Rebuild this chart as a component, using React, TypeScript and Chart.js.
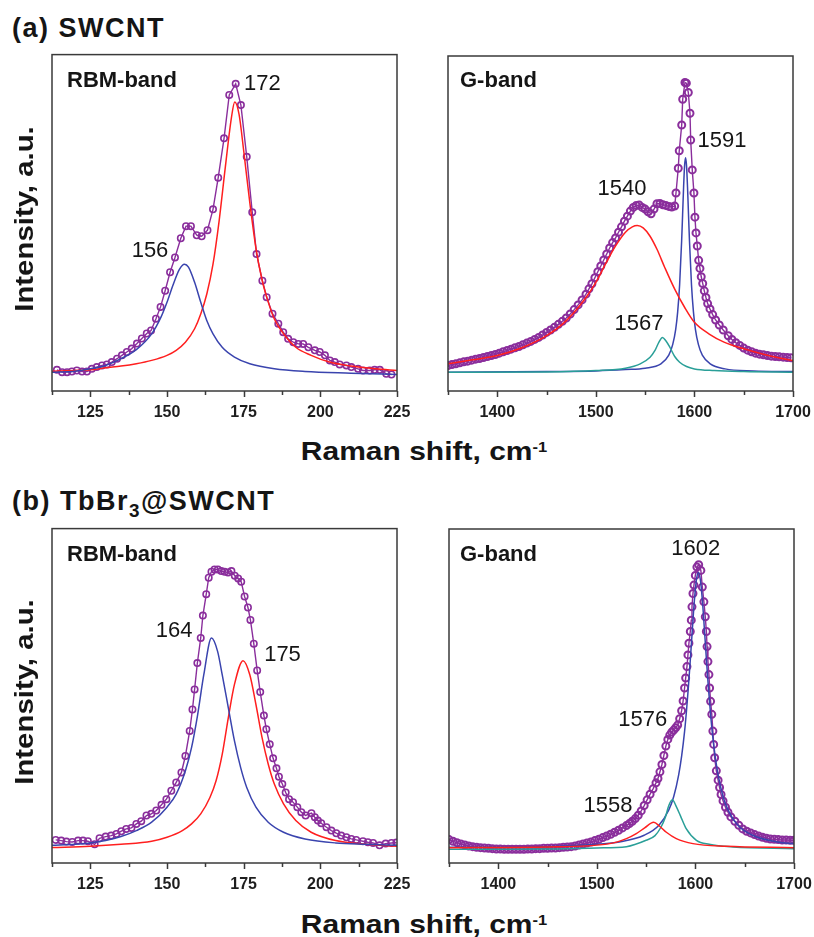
import React, { useEffect, useRef } from 'react';
import { Chart, registerables } from 'chart.js';
Chart.register(...registerables);

// ---------- (a) SWCNT, RBM band ----------
const aRbmDataX = [114.1,115.8,117.4,119.0,120.6,122.3,123.9,125.5,127.1,128.8,130.4,132.0,133.7,135.3,136.9,138.5,140.2,141.8,143.4,144.8,146.4,147.9,149.4,151.0,152.6,154.5,156.2,157.8,159.7,161.3,163.2,165.0,166.7,168.6,170.3,172.4,174.1,176.0,177.8,179.2,181.1,182.5,184.4,186.3,187.9,189.5,191.2,192.8,194.4,196.1,198.2,199.8,201.5,203.1,204.7,206.3,208.5,210.1,212.3,213.9,216.1,217.7,219.4,221.5,223.2];
const aRbmDataY = [6.3,5.6,5.6,5.8,6.1,5.8,5.8,6.6,7.1,7.6,7.9,8.6,9.6,10.6,11.6,12.6,14.1,15.6,17.1,18.0,21.5,25.0,29.8,35.3,39.7,45.4,49.0,49.0,46.3,46.0,47.8,54.0,63.4,75.1,88.0,91.3,85.0,69.6,53.1,40.7,32.8,27.9,23.0,20.0,17.5,15.5,14.5,14.0,14.0,13.0,12.1,11.6,10.6,9.1,8.6,7.9,7.6,7.1,6.6,6.1,6.1,6.3,6.3,5.1,4.9];
const aRbmBlueX = [112.5,120,125,130,135,140,145,148,150,152,154,155.7,157,159,161,163,165,168,172,177,185,195,210,225];
const aRbmBlueY = [5.6,5.9,6.6,7.6,9.6,12.3,17.0,21.9,26.4,31.6,36.1,37.7,36.8,32.3,26.4,20.9,17.0,13.0,10.1,8.1,6.6,5.8,5.3,4.9];
const aRbmRedX = [112.5,120,125,130,135,140,145,150,153,156,159,161,163,165,167,169,171,172.1,173.5,175,177,179,181,183,185,188,192,197,203,210,218,225];
const aRbmRedY = [5.9,6.1,6.3,6.9,7.4,8.1,9.1,10.6,12.1,14.5,18.5,22.9,28.9,37.7,50.6,66.4,81.2,85.9,82.2,71.5,56.0,42.5,33.0,26.5,21.4,17.0,13.0,10.6,8.6,7.4,6.6,6.1];

// ---------- (a) SWCNT, G band ----------
const aGDataX = [1350,1354,1358,1362,1366,1370,1374,1378,1382,1386,1390,1394,1398,1402,1406,1410,1414,1418,1422,1426,1430,1434,1438,1442,1446,1450,1454,1458,1462,1466,1470,1474,1478,1482,1486,1490,1493,1496,1499,1502,1505,1508,1511,1514,1517,1520,1523,1526,1529,1532,1535,1538,1541,1544,1547,1550,1553,1556,1559,1562,1565,1568,1571,1574,1577,1580,1581.3,1583.6,1584.6,1587.1,1588.1,1590.4,1591.8,1593.8,1595.5,1596.2,1597.8,1599.5,1600.5,1601.6,1602.9,1604.3,1605.6,1606.9,1608.4,1610.0,1611.7,1613.4,1615.8,1618.5,1621.5,1625.2,1629.2,1634.3,1638,1642,1646,1650,1654,1658,1662,1666,1670,1674,1678,1682,1686,1690,1694,1698];
const aGDataY = [7.6,7.9,8.1,8.4,8.7,8.9,9.2,9.5,9.7,10.0,10.3,10.6,10.9,11.3,11.7,12.1,12.5,12.9,13.3,13.8,14.3,14.8,15.4,16.0,16.7,17.5,18.2,19.0,19.9,20.8,21.8,23.0,24.3,25.7,27.2,28.9,30.5,32.0,33.8,35.6,37.3,39.1,40.9,42.7,44.3,45.7,47.4,49.0,50.7,52.2,53.7,54.8,55.4,55.5,54.8,54.3,53.5,52.9,54.3,55.9,56.0,55.6,55.4,55.1,54.9,55.2,59.1,66.5,71.7,79.4,87.1,92.1,91.9,89.1,82.9,74.9,66.0,59.1,51.9,47.2,43.3,39.0,36.6,34.1,32.1,29.9,27.9,26.1,24.5,22.8,21.2,19.7,18.2,16.5,15.4,14.4,13.6,12.8,12.2,11.7,11.3,11.0,10.8,10.6,10.4,10.3,10.2,10.1,10.0,9.9];
const aGRedX = [1350,1375,1400,1425,1450,1470,1490,1500,1510,1520,1530,1537,1542,1548,1555,1562,1570,1580,1590,1600,1615,1630,1650,1675,1700];
const aGRedY = [8.1,9.3,10.6,12.9,16.5,21.0,27.9,32.4,38.0,43.3,47.4,49.0,49.4,48.7,46.2,42.3,36.8,30.4,25.0,20.5,17.0,14.6,12.6,10.6,9.1];
const aGTealX = [1350,1450,1500,1530,1545,1555,1560,1564,1567.5,1571,1575,1580,1585,1592,1600,1620,1650,1700];
const aGTealY = [5.6,5.7,6.1,6.8,8.1,10.1,12.1,14.6,16.0,15.0,13.1,10.3,8.6,7.3,6.6,6.1,5.8,5.6];
const aGBlueX = [1350,1450,1500,1530,1550,1566,1574,1578,1581,1583,1585,1587,1588,1589,1590,1591,1592,1593,1594,1595,1597,1599,1601,1604,1608,1616,1631,1660,1700];
const aGBlueY = [5.6,5.8,6.0,6.4,6.8,8.1,10.7,13.9,18.4,23.6,31.8,44.6,52.6,60.8,67.2,69.6,67.2,60.8,52.6,44.6,31.8,23.6,18.4,13.9,10.7,8.1,6.6,6.0,5.8];

// ---------- (b) TbBr3@SWCNT, RBM band ----------
const bRbmDataX = [113.7,115.5,117.2,119.1,121.0,122.6,124.2,126.4,128.0,130.0,131.8,133.5,135.1,136.7,138.4,140.0,141.6,143.3,144.9,146.5,148.2,149.8,151.4,153.0,154.7,156.0,157.4,158.3,159.0,159.9,161.0,161.7,162.8,163.6,164.5,165.5,166.6,167.7,168.8,169.9,171.0,172.1,173.2,174.2,175.3,176.4,177.2,178.3,179.4,180.4,181.6,182.4,183.5,184.6,185.7,186.5,187.6,188.7,189.8,191.1,192.5,193.8,195.2,197.1,198.2,199.2,200.3,202.0,203.6,205.2,206.8,208.5,210.1,211.7,213.9,215.5,217.2,219.3,221.3,223.2,224.8];
const bRbmDataY = [6.9,6.7,6.4,6.3,6.7,6.7,6.5,5.6,7.4,7.9,8.2,8.7,9.5,10.2,10.5,11.7,12.5,14.2,14.7,15.7,17.4,19.1,21.6,24.1,27.1,32.0,39.5,45.9,51.9,59.8,67.3,74.0,80.4,85.3,87.1,87.8,87.8,87.3,87.1,86.9,87.3,85.9,85.1,84.1,79.7,76.4,72.7,65.6,57.6,51.1,44.1,40.0,35.5,31.3,28.3,25.8,23.6,21.1,19.1,18.2,16.7,15.2,14.2,14.9,13.7,12.7,11.9,10.7,9.7,8.9,8.2,7.7,7.2,6.9,6.5,6.2,6.0,5.3,5.8,6.0,6.1];
const bRbmBlueX = [112.5,120,125,130,135,140,145,150,153,156,158,160,162,164.5,166.5,168,170,172,174,176,179,183,188,195,205,215,225];
const bRbmBlueY = [5.3,5.6,6.0,6.7,7.9,9.7,12.2,16.7,20.6,27.6,34.5,44.4,56.3,67.3,63.3,56.3,46.4,36.5,28.6,22.6,16.7,12.2,9.2,7.2,6.0,5.6,5.3];
const bRbmRedX = [112.5,125,135,145,150,155,158,161,164,166,168,170,172,174.8,177,179,181,183,185,188,192,197,205,215,225];
const bRbmRedY = [4.6,5.0,5.6,6.5,7.7,9.7,11.7,14.7,19.6,24.6,32.5,43.5,53.4,60.5,56.3,47.4,37.5,29.6,23.6,17.7,12.7,9.2,6.7,5.6,5.0];

// ---------- (b) TbBr3@SWCNT, G band ----------
const bGDataX = [1350,1354,1358,1362,1366,1370,1374,1378,1382,1386,1390,1394,1398,1402,1406,1410,1414,1418,1422,1426,1430,1434,1438,1442,1446,1450,1454,1458,1462,1466,1470,1474,1478,1482,1486,1490,1494,1498,1502,1506,1510,1514,1518,1522,1526,1530,1533,1536,1539,1542,1545,1548,1551,1554,1557,1560,1562,1564,1566,1568,1570,1572,1574,1576,1578,1580,1582,1584,1586,1587.5,1589.0,1590.1,1591.4,1592.4,1593.4,1594.8,1595.8,1596.5,1597.5,1598.5,1599.9,1601.5,1603.3,1605.5,1607.0,1608.6,1610.0,1611.1,1611.8,1612.7,1613.7,1614.4,1615.4,1616.6,1617.7,1618.5,1619.5,1621.2,1623,1624.5,1626,1628,1630.5,1633,1636,1640,1644,1648,1652,1656,1660,1664,1668,1672,1676,1680,1684,1688,1692,1696,1700];
const bGDataY = [7.0,6.5,6.1,5.7,5.4,5.1,4.9,4.7,4.6,4.5,4.4,4.3,4.2,4.2,4.1,4.1,4.1,4.1,4.1,4.1,4.2,4.2,4.3,4.3,4.4,4.4,4.5,4.5,4.6,4.7,4.8,4.9,5.1,5.4,5.7,6.0,6.3,6.7,7.1,7.6,8.1,8.6,9.2,9.8,10.5,11.2,11.8,12.5,13.3,14.3,15.6,17.2,18.9,20.6,22.2,24.0,25.3,27.3,29.5,32.2,35.0,37.0,38.3,39.2,39.8,40.5,41.3,43.2,45.6,48.5,52.4,55.4,58.8,62.3,65.8,69.3,72.7,76.7,80.7,83.2,86.1,88.6,89.3,87.6,82.6,78.2,73.7,69.3,64.8,60.3,56.4,52.4,48.4,44.5,39.5,35.5,31.5,27.6,24.8,22.6,20.5,18.6,16.7,15.2,13.8,12.5,11.3,10.2,9.5,9.0,8.5,8.1,7.7,7.4,7.2,7.1,7.0,6.9,6.9,6.8,6.8];
const bGRedX = [1350,1450,1513,1530,1540,1548.5,1557.6,1563.7,1570.5,1580.6,1597.5,1631,1700];
const bGRedY = [4.6,4.8,5.8,7.3,8.8,10.5,12.2,11.0,9.2,7.3,5.8,5.0,4.6];
const bGTealX = [1350,1450,1500,1530,1550,1559,1565,1569.5,1573,1576.6,1580.6,1584.7,1590.8,1601,1614,1638,1700];
const bGTealY = [4.1,4.2,4.5,4.9,6.8,8.2,10.7,13.7,17.2,18.9,16.9,14.2,10.2,6.8,5.6,4.8,4.3];
const bGBlueX = [1350,1450,1500,1523,1548,1563,1573,1578,1583,1586,1589,1591,1593,1595,1597,1599,1601,1603,1605,1607,1609,1611,1613,1615,1617,1620,1623,1628,1633,1643,1658,1683,1700];
const bGBlueY = [4.7,4.9,5.6,6.3,8.3,11.3,15.9,19.9,26.4,32.0,39.4,45.8,53.2,61.6,70.5,78.8,84.8,87.0,84.8,78.8,70.5,61.6,53.2,45.8,39.4,32.0,26.4,19.9,15.9,11.3,8.3,6.3,5.8];

// ---------- axes ----------
const rbmMajorTicks = [125, 150, 175, 200, 225];
const rbmMinorTicks = [112.5, 137.5, 162.5, 187.5, 212.5];
const gMajorTicks = [1400, 1500, 1600, 1700];
const gMinorTicks = [1350, 1450, 1550, 1650];

const FONT = "'Liberation Sans', Arial, Helvetica, sans-serif";
const PURPLE = '#8a2e9c';
const RED = '#ff1f1f';
const BLUE = '#3a44ae';
const TEAL = '#2a9f98';
const AXIS = '#3a3a3a';

const PAD_X = 20;
const PAD_T = 4;
const AXIS_H = 34;

const zip = (xs: number[], ys: number[]) => xs.map((x, i) => ({ x, y: ys[i] }));

const framePlugin = {
  id: 'frame',
  afterDraw(chart: any, _args: any, opts: any) {
    const { ctx, chartArea } = chart;
    const { left, right, top, bottom } = chartArea;
    const xs = chart.scales.x;
    ctx.save();
    ctx.strokeStyle = AXIS;
    ctx.lineWidth = 1.5;
    ctx.strokeRect(left, top, right - left, bottom - top);
    ctx.beginPath();
    for (const v of opts.major || []) {
      const px = Math.round(xs.getPixelForValue(v)) + 0.5;
      ctx.moveTo(px, bottom);
      ctx.lineTo(px, bottom + 6);
    }
    for (const v of opts.minor || []) {
      const px = Math.round(xs.getPixelForValue(v)) + 0.5;
      ctx.moveTo(px, bottom);
      ctx.lineTo(px, bottom + 4);
    }
    ctx.stroke();
    ctx.restore();
  },
};

type Series = { xs: number[]; ys: number[]; color: string; kind: 'data' | 'fit' };
type Frame = { x: number; y: number; w: number; h: number };

function Panel({ frame, min, max, major, minor, series, dense = false }: { frame: Frame; min: number; max: number; major: number[]; minor: number[]; series: Series[]; dense?: boolean }) {
  const ref = useRef<HTMLCanvasElement>(null);
  useEffect(() => {
    const datasets = series.map((s) =>
      s.kind === 'data'
        ? {
            data: zip(s.xs, s.ys),
            borderColor: s.color,
            borderWidth: 1.4,
            pointRadius: dense ? 3.5 : 3.2,
            pointBorderWidth: dense ? 2 : 1.6,
            pointBorderColor: s.color,
            pointBackgroundColor: 'rgba(255,255,255,0)',
            tension: 0,
            order: 2,
          }
        : {
            data: zip(s.xs, s.ys),
            borderColor: s.color,
            borderWidth: 1.5,
            pointRadius: 0,
            cubicInterpolationMode: 'monotone',
            order: 1,
          }
    );
    const chart = new Chart(ref.current as HTMLCanvasElement, {
      type: 'line',
      data: { datasets: datasets as any },
      options: {
        animation: false,
        responsive: false,
        maintainAspectRatio: false,
        events: [],
        layout: { padding: { left: PAD_X, right: PAD_X, top: PAD_T, bottom: 0 } },
        plugins: {
          legend: { display: false },
          tooltip: { enabled: false },
          frame: { major, minor },
        } as any,
        scales: {
          x: {
            type: 'linear',
            min,
            max,
            grid: { display: false, drawTicks: false },
            border: { display: false },
            ticks: {
              font: { family: FONT, size: 16, weight: 'bold' },
              color: '#1e1e1e',
              padding: 12,
              maxRotation: 0,
              autoSkip: false,
              callback: (v: any) => String(v),
            },
            afterBuildTicks: (s: any) => {
              s.ticks = major.map((v) => ({ value: v }));
            },
            afterFit: (s: any) => {
              s.height = AXIS_H;
              s.paddingLeft = 0;
              s.paddingRight = 0;
            },
          },
          y: { display: false, min: 0, max: 100 },
        },
      },
      plugins: [framePlugin],
    });
    return () => chart.destroy();
  }, []);
  return (
    <canvas
      ref={ref}
      width={frame.w + PAD_X * 2}
      height={frame.h + PAD_T + AXIS_H}
      style={{ position: 'absolute', left: frame.x - PAD_X, top: frame.y - PAD_T }}
    />
  );
}

function T({ x, y, size, bold = false, center = false, sx = 1, ls = 0, children }: any) {
  return (
    <div
      style={{
        position: 'absolute',
        left: x,
        top: y - 0.489 * size,
        fontFamily: FONT,
        fontSize: size,
        lineHeight: `${size}px`,
        fontWeight: bold ? 700 : 400,
        letterSpacing: ls,
        whiteSpace: 'nowrap',
        color: '#151515',
        transform: `${center ? 'translateX(-50%) ' : ''}scaleX(${sx})`,
        transformOrigin: center ? 'center' : 'left center',
      }}
    >
      {children}
    </div>
  );
}

function VT({ x, y, size, sx = 1, children }: any) {
  return (
    <div
      style={{
        position: 'absolute',
        left: x,
        top: y,
        fontFamily: FONT,
        fontSize: size,
        lineHeight: `${size}px`,
        fontWeight: 700,
        whiteSpace: 'nowrap',
        color: '#151515',
        transform: `translate(-50%, -50%) rotate(-90deg) scaleX(${sx})`,
      }}
    >
      {children}
    </div>
  );
}

const A_RBM_FRAME: Frame = { x: 52, y: 53, w: 345, h: 338 };
const A_G_FRAME: Frame = { x: 448, y: 54, w: 345, h: 337 };
const B_RBM_FRAME: Frame = { x: 52, y: 527, w: 345, h: 336 };
const B_G_FRAME: Frame = { x: 449, y: 527, w: 345, h: 336 };

export default function App() {
  const sup = <sup style={{ fontSize: '0.55em', verticalAlign: '0.6em', lineHeight: 0 }}>-1</sup>;
  return (
    <div style={{ position: 'absolute', left: 0, top: 0, width: 814, height: 937, background: '#fff', overflow: 'hidden' }}>
      <Panel
        frame={A_RBM_FRAME}
        min={112.5}
        max={225}
        major={rbmMajorTicks}
        minor={rbmMinorTicks}
        series={[
          { xs: aRbmDataX, ys: aRbmDataY, color: PURPLE, kind: 'data' },
          { xs: aRbmBlueX, ys: aRbmBlueY, color: BLUE, kind: 'fit' },
          { xs: aRbmRedX, ys: aRbmRedY, color: RED, kind: 'fit' },
        ]}
      />
      <Panel
        frame={A_G_FRAME}
        min={1350}
        max={1700}
        major={gMajorTicks}
        minor={gMinorTicks}
        dense
        series={[
          { xs: aGDataX, ys: aGDataY, color: PURPLE, kind: 'data' },
          { xs: aGRedX, ys: aGRedY, color: RED, kind: 'fit' },
          { xs: aGTealX, ys: aGTealY, color: TEAL, kind: 'fit' },
          { xs: aGBlueX, ys: aGBlueY, color: BLUE, kind: 'fit' },
        ]}
      />
      <Panel
        frame={B_RBM_FRAME}
        min={112.5}
        max={225}
        major={rbmMajorTicks}
        minor={rbmMinorTicks}
        series={[
          { xs: bRbmDataX, ys: bRbmDataY, color: PURPLE, kind: 'data' },
          { xs: bRbmBlueX, ys: bRbmBlueY, color: BLUE, kind: 'fit' },
          { xs: bRbmRedX, ys: bRbmRedY, color: RED, kind: 'fit' },
        ]}
      />
      <Panel
        frame={B_G_FRAME}
        min={1350}
        max={1700}
        major={gMajorTicks}
        minor={gMinorTicks}
        dense
        series={[
          { xs: bGDataX, ys: bGDataY, color: PURPLE, kind: 'data' },
          { xs: bGRedX, ys: bGRedY, color: RED, kind: 'fit' },
          { xs: bGTealX, ys: bGTealY, color: TEAL, kind: 'fit' },
          { xs: bGBlueX, ys: bGBlueY, color: BLUE, kind: 'fit' },
        ]}
      />

      <T x={12} y={28} size={27} bold ls={1.5}>(a) SWCNT</T>
      <T x={12} y={501} size={27} bold ls={1.5}>
        (b) TbBr<span style={{ fontSize: '0.7em', verticalAlign: '-7px', lineHeight: 0 }}>3</span>@SWCNT
      </T>

      <VT x={24} y={219} size={26} sx={1.13}>Intensity, a.u.</VT>
      <VT x={24} y={692} size={26} sx={1.13}>Intensity, a.u.</VT>

      <T x={424} y={451} size={25} bold center sx={1.2}>Raman shift, cm{sup}</T>
      <T x={424} y={924} size={25} bold center sx={1.2}>Raman shift, cm{sup}</T>

      <T x={67} y={79.5} size={22} bold>RBM-band</T>
      <T x={460} y={79.5} size={22} bold>G-band</T>
      <T x={67} y={554} size={22} bold>RBM-band</T>
      <T x={460} y={554} size={22} bold>G-band</T>

      <T x={150} y={250} size={22} center>156</T>
      <T x={262.3} y={82.3} size={22} center>172</T>
      <T x={622} y={187.7} size={22} center>1540</T>
      <T x={722} y={139.5} size={22} center>1591</T>
      <T x={639} y={322.3} size={22} center>1567</T>
      <T x={174.2} y={629.7} size={22} center>164</T>
      <T x={282.5} y={653.3} size={22} center>175</T>
      <T x={695.8} y={547.5} size={22} center>1602</T>
      <T x={642.8} y={718.8} size={22} center>1576</T>
      <T x={608} y={804.5} size={22} center>1558</T>
    </div>
  );
}
